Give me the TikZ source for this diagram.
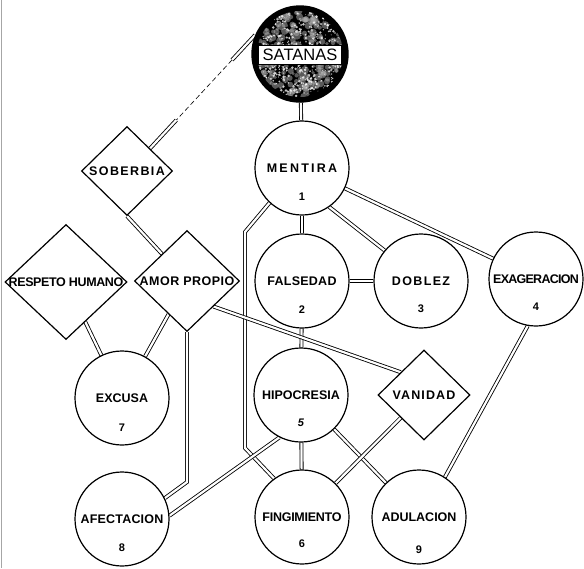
\documentclass[tikz,border=0pt]{standalone}
\usepackage{fontspec}
\setmainfont{Liberation Sans}
\usetikzlibrary{shapes.geometric,calc,backgrounds}
\newcommand\lsp[2]{{\addfontfeature{LetterSpace=#1}#2}}
\begin{document}
\begin{tikzpicture}[x=1pt,y=-1pt,
  lbl/.style={font=\fontsize{12.5}{14}\selectfont\bfseries},
  circ/.style={circle,draw,line width=1.2pt,fill=white,minimum size=94pt,inner sep=0pt,lbl},
  dia/.style={diamond,draw,line width=1.2pt,fill=white,inner sep=0pt,lbl},
  num/.style={font=\fontsize{11}{13}\selectfont\bfseries,inner sep=0pt},
  link/.style={draw=black,double=white,double distance=2.2pt,line width=0.85pt},
  faint/.style={draw=black,line width=0.6pt,dash pattern=on 5pt off 3pt},
]
\useasboundingbox (0,0) rectangle (584,568);
\draw[gray!70,line width=1pt] (1.5,0) -- (1.5,568);

% SATANAS
\node[circle,fill=black,draw=black,line width=1.4pt,minimum size=96pt,inner sep=0pt] (satanas) at (300,54) {};
\begin{scope}
  \clip (300,54) circle[radius=43];
  \pgfmathsetseed{11}
  \foreach \i in {1,...,240}{
    \pgfmathsetmacro\ra{43*sqrt(rnd)}
    \pgfmathsetmacro\an{360*rnd}
    \pgfmathsetmacro\sz{1.5+2.5*rnd}
    \fill[gray!60,opacity=0.5] (300,54) ++(\an:\ra) circle[radius=\sz];
  }
  \foreach \i in {1,...,420}{
    \pgfmathsetmacro\ra{43*sqrt(rnd)}
    \pgfmathsetmacro\an{360*rnd}
    \pgfmathsetmacro\sz{0.4+1.0*rnd}
    \fill[white,opacity=0.75] (300,54) ++(\an:\ra) circle[radius=\sz];
  }
\end{scope}
\node[draw=black,line width=1.5pt,fill=white,minimum width=84pt,minimum height=19pt,inner sep=0pt,
  font=\fontsize{16.5}{18}\selectfont] (satbox) at (300,55) {SATANAS};

% circles
\node[circ] (mentira) at (302,168) {\makebox[0pt]{\lsp{18}{MENTIRA}}};
\node[circ] (falsedad) at (302,281) {\makebox[0pt]{\lsp{2}{FALSEDAD}}};
\node[circ] (doblez) at (421,281) {\makebox[0pt]{\lsp{11}{DOBLEZ}}};
\node[circ] (exageracion) at (536,279) {\makebox[0pt]{\lsp{-6}{EXAGERACION}}};
\node[circ] (excusa) at (122,398) {\makebox[0pt]{EXCUSA}};
\node[circ] (hipocresia) at (301,395) {\makebox[0pt]{HIPOCRESIA}};
\node[circ] (afectacion) at (122,519) {\makebox[0pt]{\lsp{1.5}{AFECTACION}}};
\node[circ] (fingimiento) at (302,517) {\makebox[0pt]{\lsp{-2}{FINGIMIENTO}}};
\node[circ] (adulacion) at (419,517) {\makebox[0pt]{ADULACION}};

% numbers
\node[num] (n1) at ($(mentira.center)+(0,29)$) {1};
\node[num] (n2) at ($(falsedad.center)+(0,29)$) {2};
\node[num] (n3) at ($(doblez.center)+(0,28)$) {3};
\node[num] (n4) at ($(exageracion.center)+(0,28)$) {4};
\node[num] (n5) at ($(hipocresia.center)+(0,28)$) {\itshape 5};
\node[num] (n6) at ($(fingimiento.center)+(0,27)$) {6};
\node[num] (n7) at ($(excusa.center)+(0,30)$) {7};
\node[num] (n8) at ($(afectacion.center)+(0,29)$) {8};
\node[num] (n9) at ($(adulacion.center)+(0,33)$) {9};

% diamonds
\node[dia,minimum width=91pt,minimum height=89pt] (soberbia) at (127,171) {\makebox[0pt]{\lsp{11}{SOBERBIA}}};
\node[dia,minimum width=122pt,minimum height=115pt] (respeto) at (66,282) {\makebox[0pt]{\lsp{-3}{RESPETO HUMANO}}};
\node[dia,minimum width=105pt,minimum height=101pt] (amor) at (187,281) {\makebox[0pt]{\lsp{4}{AMOR PROPIO}}};
\node[dia,minimum width=92pt,minimum height=90pt] (vanidad) at (424,395) {\makebox[0pt]{\lsp{9}{VANIDAD}}};

\begin{pgfonlayer}{background}
  % Satanas - Soberbia (partly faded)
  \coordinate (s1) at (satanas.157);
  \coordinate (s2) at (soberbia.north east);
  \coordinate (sa) at ($(s1)!0.22!(s2)$);
  \coordinate (sb) at ($(s1)!0.75!(s2)$);
  \draw[link] (s1) -- (sa);
  \draw[faint] (sa) -- (sb);
  \draw[link] (sb) -- (s2);
  \draw[link] (satanas) -- (mentira);
  \draw[link] (soberbia.south) -- (amor);
  \draw[link] (mentira) -- (falsedad);
  \draw[link] (mentira.-55) -- (doblez.140);
  \draw[link] (mentira) -- (exageracion);
  \coordinate (m1) at (245,232);
  \coordinate (m2) at (245,448);
  \draw[link] (mentira.-133) -- (m1) -- (m2) -- (fingimiento.126);
  \draw[link] (falsedad) -- (doblez);
  \draw[link] (falsedad) -- (hipocresia);
  \draw[link] (amor.south east) -- (vanidad.north west);
  \draw[link] (amor) -- (excusa);
  \draw[link] (respeto) -- (excusa);
  \coordinate (a1) at (187,482);
  \draw[link] (amor.south) -- (a1) -- (afectacion.26);
  \draw[link] (hipocresia.-117) -- (afectacion.4);
  \draw[link] (hipocresia) -- (fingimiento);
  \draw[link] (hipocresia) -- (adulacion);
  \draw[link] (vanidad.south west) -- (fingimiento);
  \draw[link] (exageracion.-100) -- (adulacion.57);
\end{pgfonlayer}
\end{tikzpicture}
\end{document}
